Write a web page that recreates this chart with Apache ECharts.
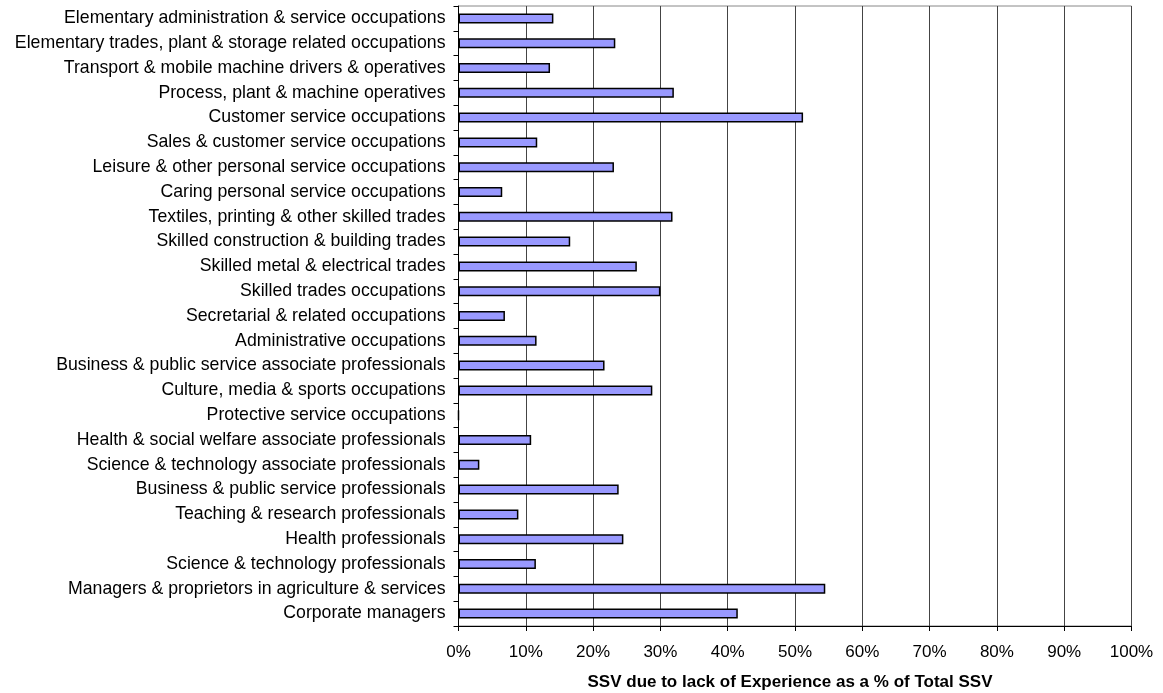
<!DOCTYPE html>
<html>
<head>
<meta charset="utf-8">
<script src="https://cdn.jsdelivr.net/npm/echarts@6/dist/echarts.min.js"></script>
<style>
html,body{margin:0;padding:0;background:#fff;}
#chart{width:1163px;height:693px;}
</style>
</head>
<body>
<div id="chart"></div>
<script>
const categories = [
  "Elementary administration & service occupations",
  "Elementary trades, plant & storage related occupations",
  "Transport & mobile machine drivers & operatives",
  "Process, plant & machine operatives",
  "Customer service occupations",
  "Sales & customer service occupations",
  "Leisure & other personal service occupations",
  "Caring personal service occupations",
  "Textiles, printing & other skilled trades",
  "Skilled construction & building trades",
  "Skilled metal & electrical trades",
  "Skilled trades occupations",
  "Secretarial & related occupations",
  "Administrative occupations",
  "Business & public service associate professionals",
  "Culture, media & sports occupations",
  "Protective service occupations",
  "Health & social welfare associate professionals",
  "Science & technology associate professionals",
  "Business & public service professionals",
  "Teaching & research professionals",
  "Health professionals",
  "Science & technology professionals",
  "Managers & proprietors in agriculture & services",
  "Corporate managers"
];
const values = [
  14.1, 23.3, 13.6, 32.0, 51.2, 11.7, 23.1, 6.5, 31.8, 16.6, 26.5, 30.0, 6.9,
  11.6, 21.7, 28.8, 0, 10.8, 3.1, 23.8, 8.9, 24.5, 11.5, 54.5, 41.5
];
const xTicks = [0, 10, 20, 30, 40, 50, 60, 70, 80, 90, 100];
const axisTitle = "SSV due to lack of Experience as a % of Total SSV";

const chart = echarts.init(document.getElementById('chart'), null, {renderer: 'canvas'});
const font = "'Liberation Sans', Arial, sans-serif";
chart.setOption({
  animation: false,
  backgroundColor: '#ffffff',
  grid: {
    left: 458.5, right: 31.5, top: 6, bottom: 67,
    outerBoundsMode: 'none', containLabel: false,
    show: true, borderColor: '#888888', borderWidth: 1, backgroundColor: 'transparent'
  },
  xAxis: {
    type: 'value',
    min: xTicks[0], max: xTicks[xTicks.length - 1], interval: 10,
    name: axisTitle,
    nameLocation: 'middle',
    nameGap: 48,
    nameTextStyle: {fontFamily: font, fontSize: 17, fontWeight: 'bold', color: '#000', padding: [0, 10, 0, 0]},
    axisLine: {show: true, lineStyle: {color: '#000', width: 1}},
    axisTick: {show: true, length: 5, inside: false, lineStyle: {color: '#000'}},
    axisLabel: {formatter: '{value}%', fontFamily: font, fontSize: 17, color: '#000', margin: 18},
    splitLine: {show: true, lineStyle: {color: '#444444', width: 1}}
  },
  yAxis: {
    type: 'category',
    data: categories,
    inverse: true,
    axisLine: {show: true, lineStyle: {color: '#000', width: 1}},
    axisTick: {show: true, length: 5, inside: false, lineStyle: {color: '#000'}},
    axisLabel: {fontFamily: font, fontSize: 17.7, color: '#000', margin: 13, padding: [4, 0, 0, 0]},
    splitLine: {show: false}
  },
  series: [{
    type: 'bar',
    data: values,
    barWidth: 10,
    itemStyle: {color: '#9999FF', borderColor: '#000000', borderWidth: 1.5}
  }]
});
</script>
</body>
</html>
